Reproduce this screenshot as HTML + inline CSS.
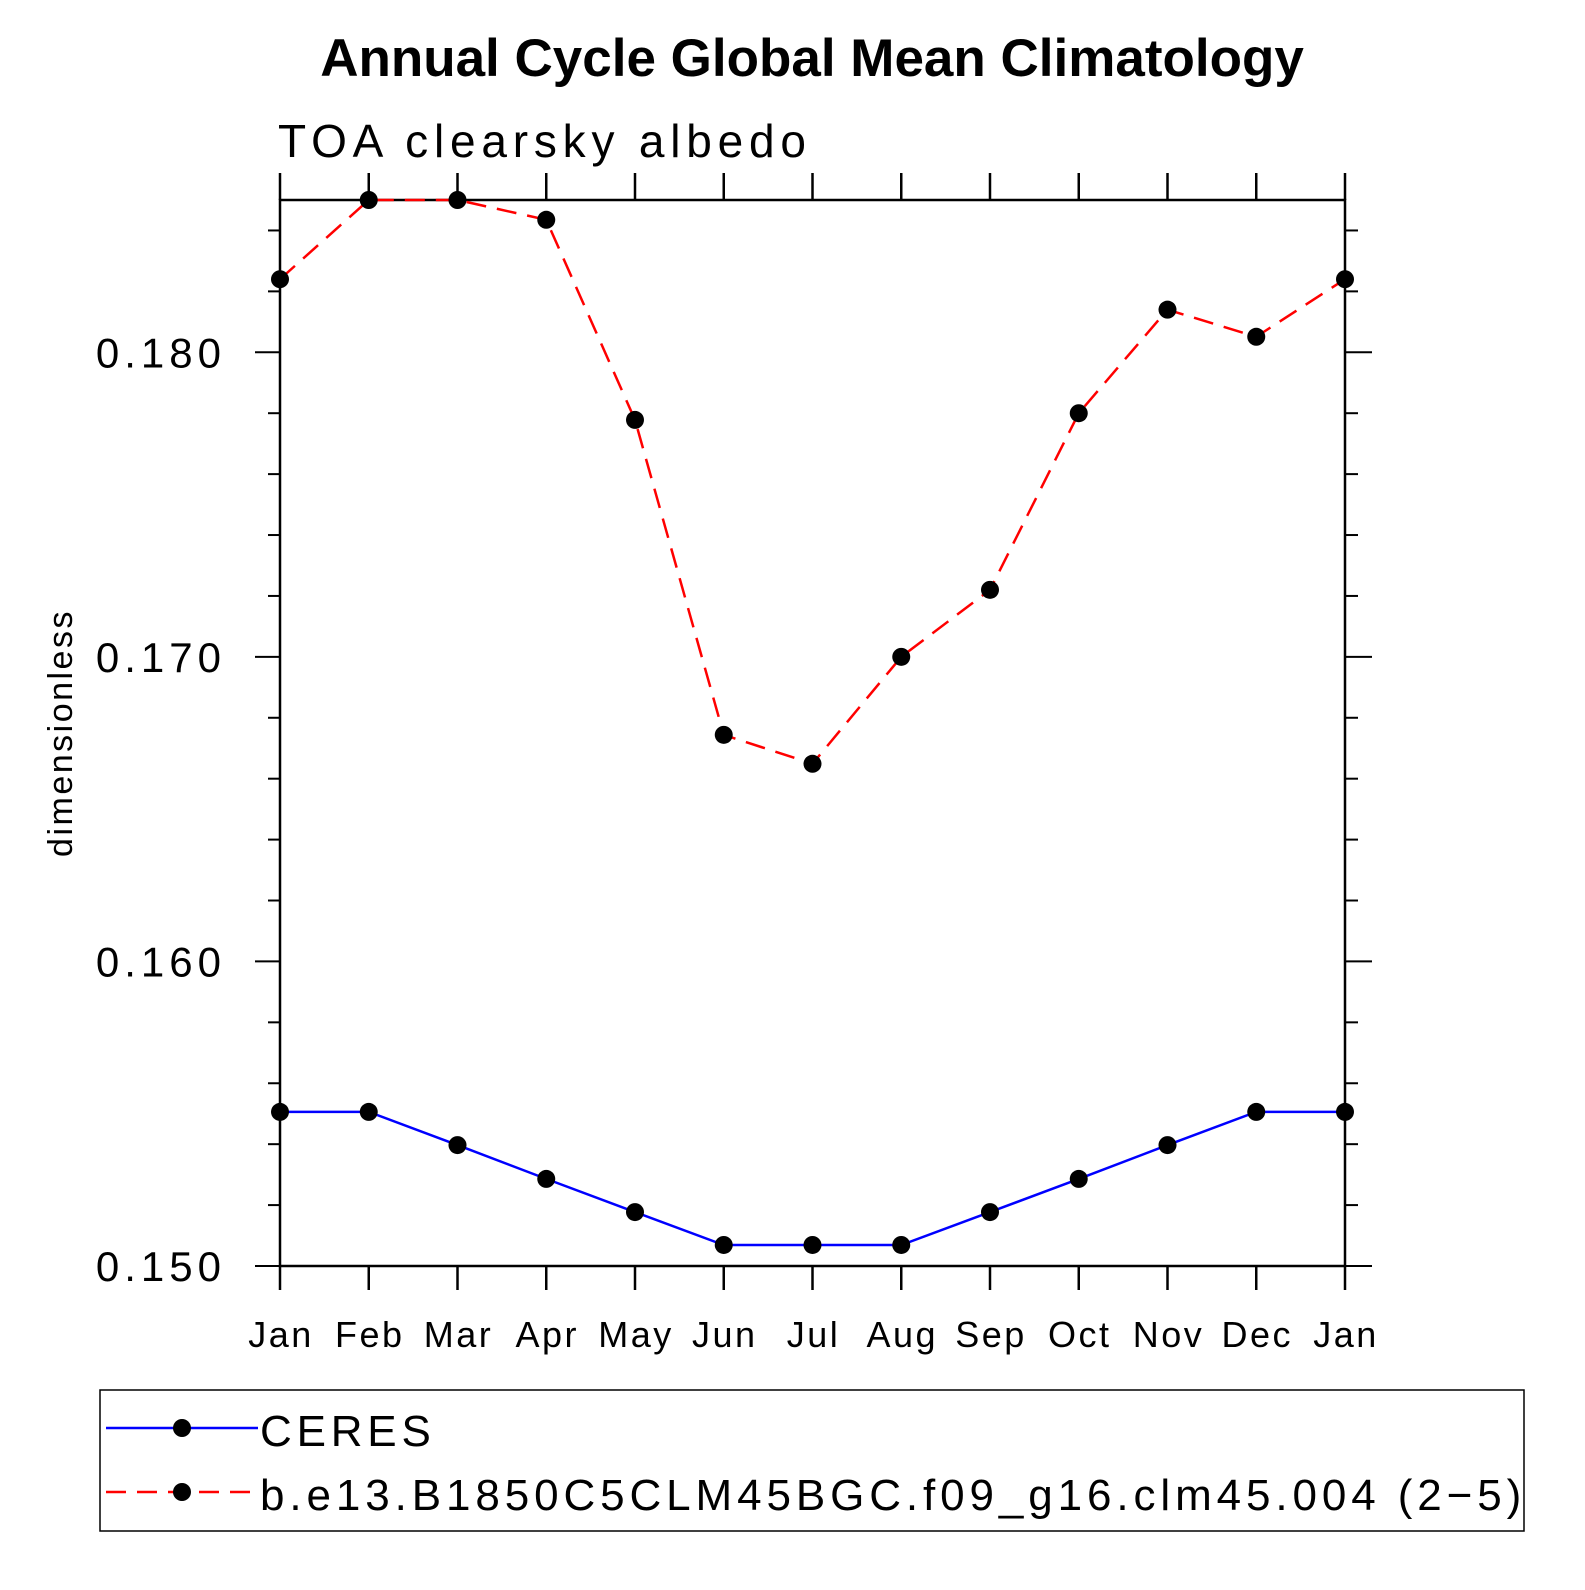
<!DOCTYPE html>
<html><head><meta charset="utf-8"><style>
body{margin:0;background:#fff}
svg text{font-family:"Liberation Sans",sans-serif}
</style></head><body>
<svg id="c" width="1585" height="1585" viewBox="0 0 1585 1585">
<text x="812" y="76" text-anchor="middle" font-size="53" font-weight="bold">Annual Cycle Global Mean Climatology</text>
<text x="278" y="157" font-size="46" font-weight="300" style="letter-spacing:5.8px">TOA clearsky albedo</text>
<text transform="translate(72,733) rotate(-90)" text-anchor="middle" font-size="34" style="letter-spacing:2.5px">dimensionless</text>
<rect x="280" y="200" width="1065" height="1066" fill="none" stroke="#000" stroke-width="2.5"/>
<g id="ticks"></g><g id="series"></g>
<rect x="100" y="1390" width="1424" height="141" fill="none" stroke="#000" stroke-width="1.5"/>
<g>
<line x1="106" y1="1428" x2="258" y2="1428" stroke="#00f" stroke-width="2.5"/>
<circle cx="182" cy="1428" r="9" fill="#000"/>
<text x="260" y="1446" font-size="44" font-weight="300" style="letter-spacing:4.8px">CERES</text></g>
<g>
<line x1="106" y1="1492" x2="258" y2="1492" stroke="#f00" stroke-width="2.5" stroke-dasharray="20,11"/>
<circle cx="182" cy="1492" r="9" fill="#000"/>
<text x="260" y="1510" font-size="44" font-weight="300" style="letter-spacing:4.9px">b.e13.B1850C5CLM45BGC.f09_g16.clm45.004 (2−5)</text></g>
</svg>
<script>
const months=["Jan","Feb","Mar","Apr","May","Jun","Jul","Aug","Sep","Oct","Nov","Dec","Jan"];
const ceres=[0.15506,0.15506,0.15397,0.15286,0.15177,0.15069,0.15069,0.15069,0.15177,0.15286,0.15397,0.15506,0.15506];
const model=[0.1824,0.1850,0.1850,0.18435,0.17778,0.16744,0.16649,0.1700,0.1722,0.1780,0.1814,0.18051,0.1824];
const yTicks=[0.150,0.160,0.170,0.180];
const yTickLabels=["0.150","0.160","0.170","0.180"];
const NS="http://www.w3.org/2000/svg";
const X0=280,X1=1345,Y0=1266,Y1=200,YMIN=0.150,YMAX=0.185;
const xs=i=>X0+(X1-X0)*i/(months.length-1);
const ys=v=>Y0-(v-YMIN)/(YMAX-YMIN)*(Y0-Y1);
function mk(t,a,p){const e=document.createElementNS(NS,t);for(const k in a)e.setAttribute(k,a[k]);p.appendChild(e);return e;}
const tg=document.getElementById('ticks'),sg=document.getElementById('series');
months.forEach((m,i)=>{const x=xs(i);
const t1=mk('line',{x1:x,y1:Y0,x2:x,y2:Y0+24,stroke:'#000','stroke-width':2.5},tg);


mk('line',{x1:x,y1:Y1,x2:x,y2:Y1-27,stroke:'#000','stroke-width':2.5},tg);
const l=mk('text',{x:x+1,y:1347,'text-anchor':'middle','font-size':36,'font-weight':300,style:'letter-spacing:2.5px'},tg);l.textContent=m;

});
for(let v=YMIN;v<=YMAX+1e-9;v+=0.002){const y=ys(v);const major=Math.abs((v*1000)%10)<0.01||Math.abs((v*1000)%10-10)<0.01;
mk('line',{x1:X0-(major?25:12),y1:y,x2:X0,y2:y,stroke:'#000','stroke-width':2},tg);
mk('line',{x1:X1,y1:y,x2:X1+(major?27:13),y2:y,stroke:'#000','stroke-width':2},tg);}
yTicks.forEach((v,i)=>{const l=mk('text',{x:226,y:ys(v)+15,'text-anchor':'end','font-size':42,'font-weight':300,style:'letter-spacing:5px'},tg);l.textContent=yTickLabels[i];

});
function series(d,col,dash,name){const p=mk('polyline',{points:d.map((v,i)=>xs(i)+','+ys(v)).join(' '),fill:'none',stroke:col,'stroke-width':2.5,'stroke-dasharray':dash},sg);


d.forEach((v,i)=>{const c=mk('circle',{cx:xs(i),cy:ys(v),r:9,fill:'#000'},sg);

});}
series(ceres,'#00f','none','ceres');
series(model,'#f00','20,11','model');
</script>
</body></html>
